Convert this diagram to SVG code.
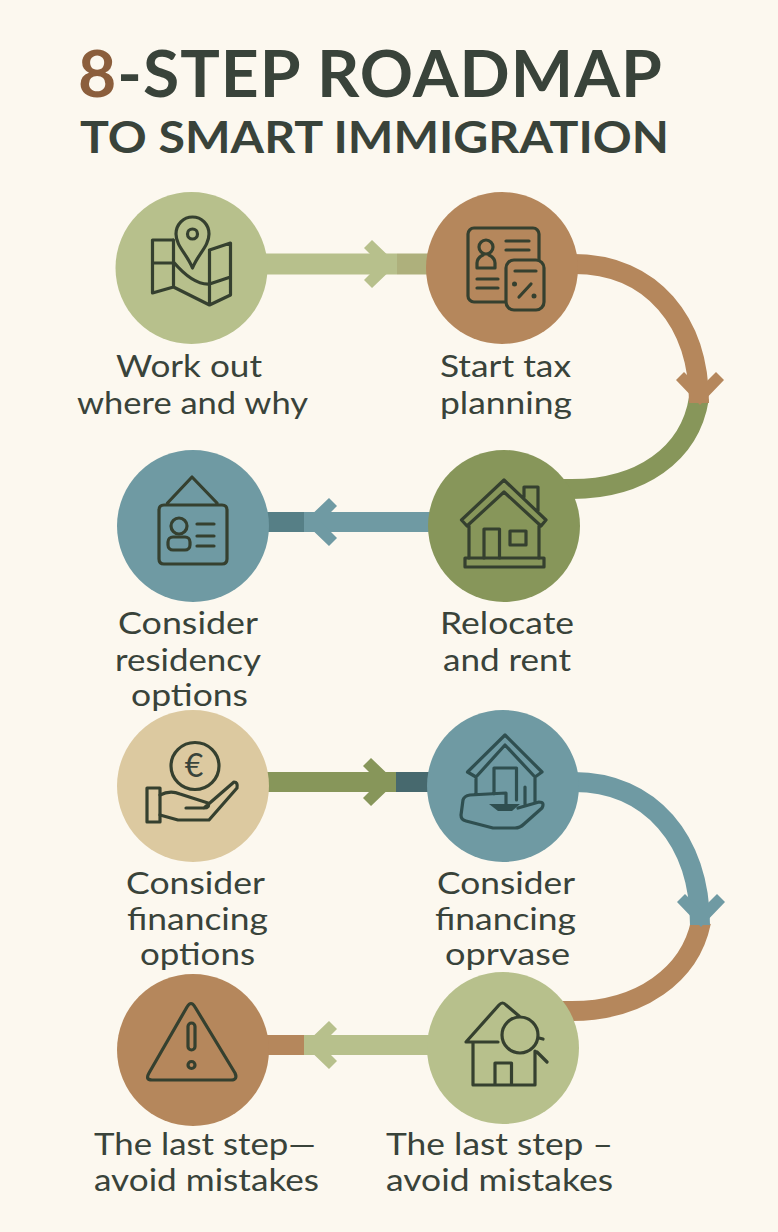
<svg xmlns="http://www.w3.org/2000/svg" width="778" height="1232" viewBox="0 0 778 1232">
<style>
text{font-family:"Lato","Open Sans","Liberation Sans",sans-serif;fill:#39433a}
.t1{font-size:65px;font-weight:700;letter-spacing:1px}
.t2{font-size:44px;font-weight:700}
.lb{font-size:31px;font-weight:400}
.i{fill:none;stroke:#35402f;stroke-width:3.200;stroke-linejoin:round;stroke-linecap:round}
.d{stroke:#2f4f50}
.f{stroke:#35402f;stroke-width:3.200;stroke-linejoin:round}
.shaft{fill:none;stroke-linecap:butt}
.w22{stroke-width:21}
.w20{stroke-width:20}
.sage{fill:#b7c08c}.brown{fill:#b5875c}.olive{fill:#87965a}.teal{fill:#6f9aa3}.tan{fill:#dcc9a0}
</style>
<defs>
<path id="chev" d="M0 0L-25-24-33-16-17 0-33 16-25 24Z"/>
</defs>
<rect width="778" height="1232" fill="#fcf8ef"/>
<g id="title">
<text class="t1" x="78" y="97" textLength="585" lengthAdjust="spacingAndGlyphs"><tspan style="fill:#8b5e3c">8</tspan>-STEP ROADMAP</text>
<text class="t2" x="80" y="153" textLength="589" lengthAdjust="spacingAndGlyphs">TO SMART IMMIGRATION</text>
</g>
<g id="connectors">
<path class="shaft w22" stroke="#b7c08c" d="M262 264H397"/>
<path class="shaft w22" stroke="#aeb07c" d="M397 264H430"/>
<use href="#chev" transform="translate(397 264)" fill="#b7c08c"/>
<path class="shaft w20" stroke="#87965a" d="M550 489H572C640 489 690 455 699 398"/>
<path class="shaft w20" stroke="#b5875c" d="M574 264C652 264 699 322 699 403"/>
<use href="#chev" transform="translate(700 405) rotate(90)" fill="#b5875c"/>
<path class="shaft w20" stroke="#6f9aa3" d="M432 522H304"/>
<path class="shaft w20" stroke="#567f86" d="M304 522H265"/>
<use href="#chev" transform="translate(304 522) rotate(180)" fill="#6f9aa3"/>
<path class="shaft w20" stroke="#87965a" d="M265 782H396"/>
<path class="shaft w20" stroke="#47696e" d="M396 782H430"/>
<use href="#chev" transform="translate(396 782)" fill="#87965a"/>
<path class="shaft w20" stroke="#b5875c" d="M550 1011H572C640 1011 690 975 701 922"/>
<path class="shaft w20" stroke="#6f9aa3" d="M574 782C650 782 700 840 700 925"/>
<use href="#chev" transform="translate(701 927) rotate(90)" fill="#6f9aa3"/>
<path class="shaft w20" stroke="#b7c08c" d="M432 1045H304"/>
<path class="shaft w20" stroke="#b5875c" d="M304 1045H265"/>
<use href="#chev" transform="translate(304 1045) rotate(180)" fill="#b7c08c"/>
</g>
<g id="node1">
<circle class="sage" cx="191.500" cy="268" r="76"/>
<path class="i" d="M192.500 268C187 254 176 246 176 234A16.500 17 0 0 1 209 234C209 246 198 254 192.500 268Z"/>
<circle class="i" cx="192.500" cy="234" r="5"/>
<path class="i" d="M173 240H152.500V293L173.500 287 209.500 305 230.500 295V243L209.500 250M173.500 240V287M209.500 250V305M152.500 263H173.500M173.500 262C182 272 195 285 209.500 284L230.500 277"/>
<text class="lb" x="116" y="377" textLength="146" lengthAdjust="spacingAndGlyphs">Work out</text>
<text class="lb" x="77" y="414" textLength="231" lengthAdjust="spacingAndGlyphs">where and why</text>
</g>
<g id="node2">
<circle class="brown" cx="502" cy="268" r="76"/>
<rect class="i" x="468" y="228" width="71" height="74" rx="6"/>
<circle class="i" cx="486" cy="247" r="7"/>
<path class="i" d="M477 268V263Q477 258 483 255M495 268V263Q495 258 489 255M477 268H495M506 241H529M506 250H529M477 279H498M477 288H498"/>
<rect class="f" x="506" y="260" width="38" height="50" rx="8" fill="#b5875c"/>
<path class="i" d="M515 271H536M519 297L531 284"/>
<circle cx="514.500" cy="284" r="2.500" fill="#35402f"/>
<circle cx="534" cy="296" r="2.500" fill="#35402f"/>
<text class="lb" x="440" y="377" textLength="131" lengthAdjust="spacingAndGlyphs">Start tax</text>
<text class="lb" x="440" y="414" textLength="132" lengthAdjust="spacingAndGlyphs">planning</text>
</g>
<g id="node3">
<circle class="olive" cx="504" cy="526" r="76"/>
<path class="i" d="M461.500 520L504 480 546 520 541 526 504 492 467 526ZM524 497V487H538V511M469 526V558M539 526V558M484 558V529H499.500V558"/>
<rect class="i" x="465" y="558" width="79" height="9"/>
<rect class="i" x="510" y="531" width="16" height="14"/>
<text class="lb" x="440" y="634" textLength="134" lengthAdjust="spacingAndGlyphs">Relocate</text>
<text class="lb" x="443" y="671" textLength="128" lengthAdjust="spacingAndGlyphs">and rent</text>
</g>
<g id="node4">
<circle class="teal" cx="193" cy="526" r="76"/>
<path class="i" d="M167.500 503L192 477 217 503M159 510Q159 505 164 505H222Q227 505 227 510V559Q227 564 222 564H164Q159 564 159 559Z"/>
<ellipse class="i" cx="179" cy="526" rx="8" ry="8"/>
<rect class="i" x="168" y="537" width="22" height="13" rx="5"/>
<path class="i" d="M197 524H214M197 536H214M197 546H214"/>
<text class="lb" x="118" y="634" textLength="140" lengthAdjust="spacingAndGlyphs">Consider</text>
<text class="lb" x="115" y="671" textLength="146" lengthAdjust="spacingAndGlyphs">residency</text>
<text class="lb" x="131" y="706" textLength="117" lengthAdjust="spacingAndGlyphs">options</text>
</g>
<g id="node5">
<circle class="tan" cx="193" cy="786" r="76"/>
<ellipse class="i" cx="195" cy="766" rx="24" ry="23.500"/>
<text x="194" y="777" font-size="32" text-anchor="middle">€</text>
<rect class="i" x="147" y="788" width="13" height="34"/>
<path class="i" d="M160 795Q170 790 180 794L208 803Q210 808 204 808H186M204 808L234 782Q238 782 237 788L209 820H178L160 815"/>
<text class="lb" x="126" y="894" textLength="139" lengthAdjust="spacingAndGlyphs">Consider</text>
<text class="lb" x="127" y="930" textLength="141" lengthAdjust="spacingAndGlyphs">financing</text>
<text class="lb" x="140" y="965" textLength="115" lengthAdjust="spacingAndGlyphs">options</text>
</g>
<g id="node6">
<circle class="teal" cx="503" cy="786" r="76"/>
<path class="i d" d="M467.500 772L505 735 542 772 535 777 505 745 476 777ZM476 777V794M535 777V802M494 794V768H516.500V800M525 787V805M463 800Q464 796 470 795L506 793V804M463 800L461 815Q461 820 466 821L493 828H515Q520 828 524 824L542 808Q545 802 539 802L518 808"/>
<path d="M489 804H520L512 811H498Z" fill="#2f4f50"/>
<text class="lb" x="437" y="894" textLength="138" lengthAdjust="spacingAndGlyphs">Consider</text>
<text class="lb" x="435" y="930" textLength="141" lengthAdjust="spacingAndGlyphs">financing</text>
<text class="lb" x="445" y="965" textLength="125" lengthAdjust="spacingAndGlyphs">oprvase</text>
</g>
<g id="node7">
<circle class="sage" cx="503" cy="1048" r="76"/>
<path class="i" d="M498 1042H466L499 1005Q502.500 1001 506 1005L519 1016M473 1042V1085H535V1051M495 1085V1063H511.500V1085M537 1052L547 1062M539 1038L543 1039"/>
<ellipse class="i" cx="520" cy="1035" rx="18" ry="18"/>
<text class="lb" x="386" y="1155" textLength="227" lengthAdjust="spacingAndGlyphs">The last step –</text>
<text class="lb" x="386" y="1191" textLength="227" lengthAdjust="spacingAndGlyphs">avoid mistakes</text>
</g>
<g id="node8">
<circle class="brown" cx="193" cy="1050" r="76"/>
<path class="i" d="M187 1007Q191 1000 195 1007L235 1073Q238 1080 231 1080H152Q145 1080 149 1073Z"/>
<rect class="i" x="188" y="1023" width="7" height="27" rx="3.500"/>
<circle class="i" cx="191.500" cy="1065" r="3.500"/>
<text class="lb" x="94" y="1155" textLength="222" lengthAdjust="spacingAndGlyphs">The last step—</text>
<text class="lb" x="94" y="1191" textLength="225" lengthAdjust="spacingAndGlyphs">avoid mistakes</text>
</g>
</svg>
